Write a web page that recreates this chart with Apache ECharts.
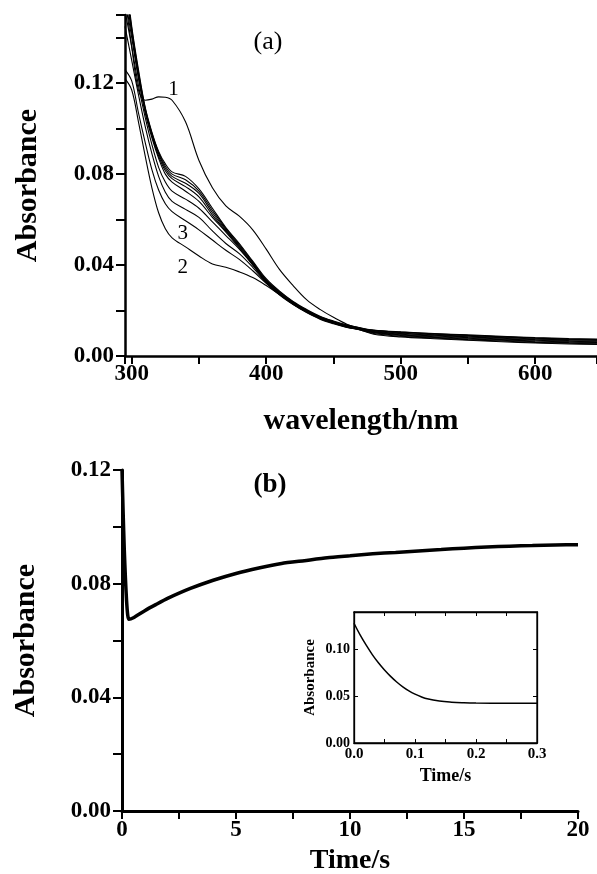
<!DOCTYPE html>
<html>
<head>
<meta charset="utf-8">
<script src="https://cdn.jsdelivr.net/npm/echarts@6/dist/echarts.min.js"></script>
<style>
  html, body { margin: 0; padding: 0; background: #fff; }
  #chart { width: 597px; height: 874px; }
</style>
</head>
<body>
<div id="chart"></div>
<script>
// ---- panel (a): spectra, absorbance vs wavelength ----
const wavelengths = [295, 300, 305, 310, 315, 320, 325, 330, 340, 350, 360, 370, 380, 390, 400,
  410, 420, 430, 440, 450, 460, 470, 480, 500, 525, 550, 575, 600, 625, 646];

// curve 1 (the one with the hump)
const curve1 = [0.158, 0.136, 0.117, 0.1125, 0.113, 0.114, 0.1138, 0.1125, 0.103, 0.086, 0.074, 0.066, 0.0615, 0.0555, 0.047,
  0.038, 0.031, 0.0248, 0.0205, 0.017, 0.014, 0.0123, 0.0113, 0.0105, 0.0098, 0.0091, 0.0085, 0.0079, 0.0074, 0.0071];
// curve 2 (lowest shoulder)
const curve2 = [0.122, 0.117, 0.103, 0.088, 0.074, 0.063, 0.056, 0.052, 0.048, 0.044, 0.0405, 0.039, 0.037, 0.0345, 0.031,
  0.027, 0.023, 0.0195, 0.0166, 0.0146, 0.0129, 0.0114, 0.0096, 0.0084, 0.0076, 0.0069, 0.0063, 0.0057, 0.0053, 0.0051];
// curve 3
const curve3 = [0.126, 0.121, 0.107, 0.094, 0.082, 0.073, 0.067, 0.0635, 0.0595, 0.0555, 0.051, 0.0465, 0.0425, 0.0375, 0.032,
  0.027, 0.0228, 0.0193, 0.0164, 0.0144, 0.0127, 0.0115, 0.0099, 0.0087, 0.0079, 0.0072, 0.0066, 0.006, 0.0056, 0.0054];
// the rest of the set, from lower to upper shoulder
const curve4 = [0.145, 0.13, 0.115, 0.101, 0.089, 0.079, 0.072, 0.068, 0.0645, 0.061, 0.055, 0.0495, 0.045, 0.039, 0.0322,
  0.0268, 0.0226, 0.0191, 0.0162, 0.0142, 0.0126, 0.0116, 0.0102, 0.009, 0.0082, 0.0075, 0.0069, 0.0063, 0.0059, 0.0057];
const curve5 = [0.152, 0.136, 0.119, 0.105, 0.093, 0.083, 0.0765, 0.0725, 0.069, 0.065, 0.059, 0.053, 0.047, 0.04, 0.0325,
  0.0272, 0.0229, 0.0194, 0.0165, 0.0145, 0.0128, 0.0117, 0.0104, 0.0093, 0.0085, 0.0078, 0.0072, 0.0066, 0.0062, 0.006];
const curve6 = [0.158, 0.14, 0.122, 0.107, 0.096, 0.087, 0.08, 0.0765, 0.0725, 0.068, 0.061, 0.0545, 0.0475, 0.0402, 0.0328,
  0.0274, 0.0231, 0.0196, 0.0167, 0.0147, 0.013, 0.0118, 0.0106, 0.0096, 0.0088, 0.0081, 0.0075, 0.0069, 0.0065, 0.0063];
const curve7 = [0.162, 0.142, 0.123, 0.108, 0.097, 0.088, 0.0815, 0.078, 0.0745, 0.07, 0.062, 0.055, 0.048, 0.0405, 0.033,
  0.0276, 0.0233, 0.0198, 0.0169, 0.0149, 0.0132, 0.0119, 0.0108, 0.0099, 0.0091, 0.0084, 0.0078, 0.0072, 0.0068, 0.0066];
const curve8 = [0.165, 0.143, 0.124, 0.1085, 0.0975, 0.089, 0.0825, 0.079, 0.076, 0.0715, 0.063, 0.0555, 0.0485, 0.041, 0.0333,
  0.0279, 0.0235, 0.02, 0.0171, 0.015, 0.0133, 0.012, 0.011, 0.0101, 0.0093, 0.0087, 0.0081, 0.0075, 0.0071, 0.0069];
const curve9 = [0.168, 0.144, 0.125, 0.109, 0.098, 0.0895, 0.0835, 0.08, 0.0775, 0.0725, 0.064, 0.056, 0.049, 0.0413, 0.0336,
  0.0282, 0.0238, 0.0202, 0.0173, 0.0152, 0.0135, 0.0122, 0.0112, 0.0104, 0.0096, 0.009, 0.0084, 0.0078, 0.0074, 0.0072];
const curve10 = [0.17, 0.145, 0.126, 0.1095, 0.0985, 0.09, 0.0845, 0.081, 0.079, 0.0735, 0.065, 0.0565, 0.0495, 0.0417, 0.034,
  0.0285, 0.024, 0.0205, 0.0175, 0.0154, 0.0137, 0.0124, 0.0114, 0.0106, 0.0099, 0.0093, 0.0087, 0.0081, 0.0077, 0.0075];

const spectra = [curve1, curve2, curve3, curve4, curve5, curve6, curve7, curve8, curve9, curve10];

// curve numbers, placed in data coords of panel (a)
const curveLabels = [
  { text: '1', at: [331, 0.1174] },
  { text: '3', at: [338, 0.054] },
  { text: '2', at: [338, 0.039] }
];

// ---- panel (b): kinetic trace ----
const timeMain = [0, 0.05, 0.1, 0.15, 0.2, 0.25, 0.3, 0.5, 1, 1.5, 2, 3, 4, 5, 6, 7, 8, 9, 10,
  11, 12, 13, 14, 15, 16, 17, 18, 19, 20];
const absMain = [0.12, 0.105, 0.092, 0.082, 0.074, 0.069, 0.0675, 0.068, 0.0705, 0.0727, 0.0748, 0.0783, 0.0812, 0.0836,
  0.0855, 0.0871, 0.0881, 0.0891, 0.0898, 0.0905, 0.091, 0.0915, 0.092, 0.0925, 0.0929, 0.0932, 0.0934, 0.0936, 0.0937];

// inset: first 0.3 s
const timeInset = [0, 0.01, 0.02, 0.03, 0.04, 0.05, 0.06, 0.07, 0.08, 0.09, 0.1, 0.11, 0.12, 0.14, 0.16, 0.18, 0.2, 0.25, 0.3];
const absInset = [0.128, 0.1155, 0.1045, 0.0945, 0.0857, 0.078, 0.0712, 0.0652, 0.06, 0.0557, 0.0522, 0.0494, 0.0472,
  0.0448, 0.0436, 0.043, 0.0427, 0.0425, 0.0425];

const serif = "'Liberation Serif', 'Times New Roman', serif";

const chart = echarts.init(document.getElementById('chart'));

function lbl(size, extra) {
  return Object.assign({ fontFamily: serif, fontWeight: 'bold', fontSize: size, color: '#000' }, extra || {});
}
function axLine(w) {
  return { show: true, onZero: false, lineStyle: { color: '#000', width: w } };
}
function tick(len, w, inside) {
  return { show: true, inside: !!inside, length: len, lineStyle: { color: '#000', width: w } };
}
// show a label only where value is a multiple of step
function every(step, digits, maxShown) {
  return function (v) {
    const k = v / step;
    if (Math.abs(k - Math.round(k)) > 1e-6) return '';
    if (maxShown != null && v > maxShown + 1e-9) return '';
    return v.toFixed(digits);
  };
}

const option = {
  animation: false,
  backgroundColor: '#fff',
  grid: [
    { left: 125, top: 15, width: 472, height: 341, outerBoundsMode: 'none' },
    { left: 122, top: 470, width: 456, height: 341, outerBoundsMode: 'none' },
    { left: 354, top: 612, width: 183, height: 131, outerBoundsMode: 'none',
      show: true, borderColor: '#000', borderWidth: 1.3, backgroundColor: 'transparent' }
  ],
  xAxis: [
    {
      gridIndex: 0, type: 'value', min: 295, max: 646, minInterval: 50, maxInterval: 50,
      axisLine: axLine(2.5), axisTick: tick(8, 2), splitLine: { show: false },
      axisLabel: lbl(23, { margin: 7, formatter: every(100, 0) }),
      name: 'wavelength/nm', nameLocation: 'middle', nameGap: 50, nameTextStyle: lbl(30)
    },
    {
      gridIndex: 1, type: 'value', min: 0, max: 20, interval: 2.5,
      axisLine: axLine(3), axisTick: tick(8, 2), splitLine: { show: false },
      axisLabel: lbl(23, { margin: 8, formatter: every(5, 0) }),
      name: 'Time/s', nameLocation: 'middle', nameGap: 36, nameTextStyle: lbl(28)
    },
    {
      gridIndex: 2, type: 'value', min: 0, max: 0.3, interval: 0.05,
      axisLine: axLine(1.3), axisTick: tick(4, 1, true), splitLine: { show: false },
      axisLabel: lbl(15, { margin: 4, formatter: every(0.1, 1) }),
      name: 'Time/s', nameLocation: 'middle', nameGap: 24, nameTextStyle: lbl(18)
    },
    {
      gridIndex: 2, type: 'value', position: 'top', min: 0, max: 0.3, interval: 0.05,
      axisLine: axLine(1.3), axisTick: tick(4, 1, true), splitLine: { show: false },
      axisLabel: { show: false }
    }
  ],
  yAxis: [
    {
      gridIndex: 0, type: 'value', min: 0, max: 0.15, minInterval: 0.02, maxInterval: 0.02,
      axisLine: axLine(2.5), axisTick: tick(9, 2), splitLine: { show: false },
      axisLabel: lbl(23, { margin: 11, formatter: every(0.04, 2) }),
      name: 'Absorbance', nameLocation: 'middle', nameRotate: 90, nameGap: 82, nameTextStyle: lbl(30)
    },
    {
      gridIndex: 1, type: 'value', min: 0, max: 0.12, interval: 0.02,
      axisLine: axLine(3), axisTick: tick(9, 2), splitLine: { show: false },
      axisLabel: lbl(23, { margin: 11, formatter: every(0.04, 2) }),
      name: 'Absorbance', nameLocation: 'middle', nameRotate: 90, nameGap: 81, nameTextStyle: lbl(30)
    },
    {
      gridIndex: 2, type: 'value', min: 0, max: 0.14, interval: 0.05,
      axisLine: axLine(1.3), axisTick: tick(4, 1, true), splitLine: { show: false },
      axisLabel: lbl(14, { margin: 4, formatter: every(0.05, 2, 0.1) }),
      name: 'Absorbance', nameLocation: 'middle', nameRotate: 90, nameGap: 36, nameTextStyle: lbl(15)
    },
    {
      gridIndex: 2, type: 'value', position: 'right', min: 0, max: 0.14, interval: 0.05,
      axisLine: axLine(1.3), axisTick: tick(4, 1, true), splitLine: { show: false },
      axisLabel: { show: false }
    }
  ],
  series: []
};

spectra.forEach(function (vals, n) {
  option.series.push({
    name: 'curve ' + (n + 1),
    type: 'line', xAxisIndex: 0, yAxisIndex: 0,
    showSymbol: false, smooth: 0.35, clip: true,
    lineStyle: { color: '#000', width: 1.1 },
    data: wavelengths.map((w, i) => [w, vals[i]])
  });
});

option.series.push({
  name: 'trace', type: 'line', xAxisIndex: 1, yAxisIndex: 1,
  showSymbol: false, smooth: 0.2,
  lineStyle: { color: '#000', width: 3.5 },
  data: timeMain.map((t, i) => [t, absMain[i]])
});

option.series.push({
  name: 'inset', type: 'line', xAxisIndex: 2, yAxisIndex: 2,
  showSymbol: false, smooth: 0.4,
  lineStyle: { color: '#000', width: 1.5 },
  data: timeInset.map((t, i) => [t, absInset[i]])
});

chart.setOption(option);

// panel letters and curve numbers
function txt(x, y, s, size, weight) {
  return {
    type: 'text', x: x, y: y,
    style: {
      text: s, fontFamily: serif, fontSize: size, fontWeight: weight, fill: '#000',
      align: 'center', verticalAlign: 'middle', textAlign: 'center', textVerticalAlign: 'middle'
    }
  };
}
const graphics = [
  txt(268, 42, '(a)', 26, 'normal'),
  txt(270, 485, '(b)', 27, 'bold')
];
curveLabels.forEach(function (c) {
  const p = chart.convertToPixel({ gridIndex: 0 }, c.at);
  graphics.push(txt(p[0], p[1], c.text, 21, 'normal'));
});
chart.setOption({ graphic: graphics });
</script>
</body>
</html>
